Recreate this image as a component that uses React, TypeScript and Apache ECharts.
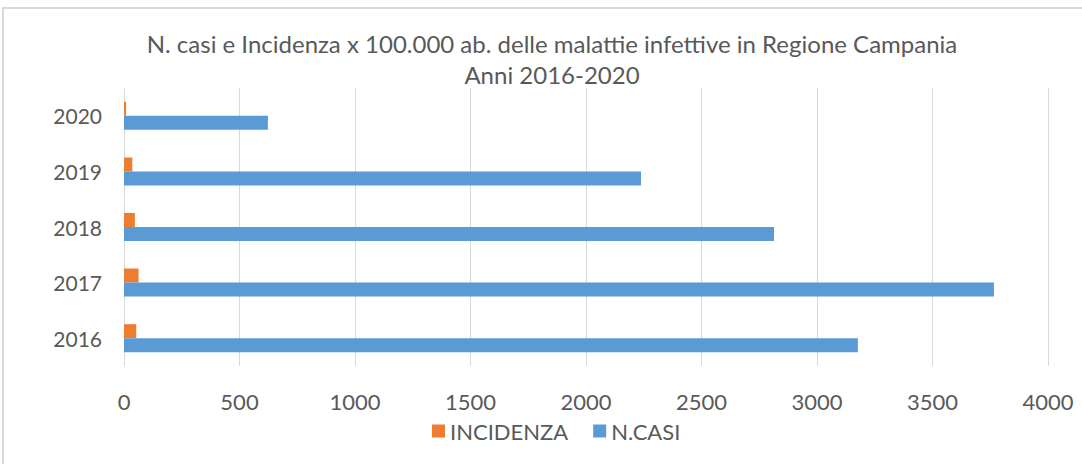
import React, { useEffect, useRef } from "react";
import * as echarts from "echarts";

const years = ["2016", "2017", "2018", "2019", "2020"];
const incidenza = [53, 63, 47, 36, 9];
const nCasi = [3177, 3766, 2814, 2238, 623];
const titleLines = [
  "N. casi e Incidenza x 100.000 ab. delle malattie infettive in Regione Campania",
  "Anni 2016-2020",
];

const FONT = "Lato, 'Liberation Sans', sans-serif";
const GRAY = "#595959";

export default function App() {
  const ref = useRef<HTMLDivElement>(null);
  useEffect(() => {
    if (!ref.current) return;
    const chart = echarts.init(ref.current, undefined, { renderer: "svg" });
    chart.setOption({
      animation: false,
      backgroundColor: "#ffffff",
      textStyle: { fontFamily: FONT },
      title: {
        text: titleLines.join("\n"),
        left: 547,
        textAlign: "center",
        top: 23,
        textStyle: {
          fontFamily: FONT,
          fontSize: 24,
          fontWeight: "normal",
          color: GRAY,
          lineHeight: 31,
        },
      },
      graphic: [
        {
          type: "rect",
          shape: { x: 3, y: 8, width: 1100, height: 500 },
          style: { fill: "none", stroke: "#D9D9D9", lineWidth: 2 },
          silent: true,
          z: -1,
        },
      ],
      legend: {
        data: ["INCIDENZA", "N.CASI"],
        left: 427,
        top: 415,
        icon: "rect",
        itemWidth: 13,
        itemHeight: 13,
        itemGap: 25,
        itemStyle: { borderWidth: 0 },
        textStyle: { fontFamily: FONT, fontSize: 22, color: GRAY },
      },
      grid: { left: 124, right: 34, top: 88, bottom: 98, containLabel: false },
      xAxis: {
        type: "value",
        min: 0,
        max: 4000,
        interval: 500,
        axisLine: { show: false },
        axisTick: { show: false },
        splitLine: { lineStyle: { color: "#D9D9D9", width: 1 } },
        axisLabel: {
          fontFamily: FONT,
          fontSize: 22,
          color: GRAY,
          margin: 24,
          formatter: (v: number) => String(v),
        },
      },
      yAxis: {
        type: "category",
        data: years,
        axisLine: { show: true, lineStyle: { color: "#D9D9D9" } },
        axisTick: { show: false },
        axisLabel: { fontFamily: FONT, fontSize: 21, color: GRAY, margin: 22 },
      },
      series: [
        {
          name: "INCIDENZA",
          type: "bar",
          data: incidenza,
          barWidth: 14,
          barGap: "0%",
          itemStyle: { color: "#ED7D31" },
        },
        {
          name: "N.CASI",
          type: "bar",
          data: nCasi,
          barWidth: 14,
          barGap: "0%",
          itemStyle: { color: "#5B9BD5" },
        },
      ],
    });
    return () => chart.dispose();
  }, []);
  return <div ref={ref} style={{ width: 1082, height: 464, position: "absolute", left: 0, top: 0 }} />;
}
